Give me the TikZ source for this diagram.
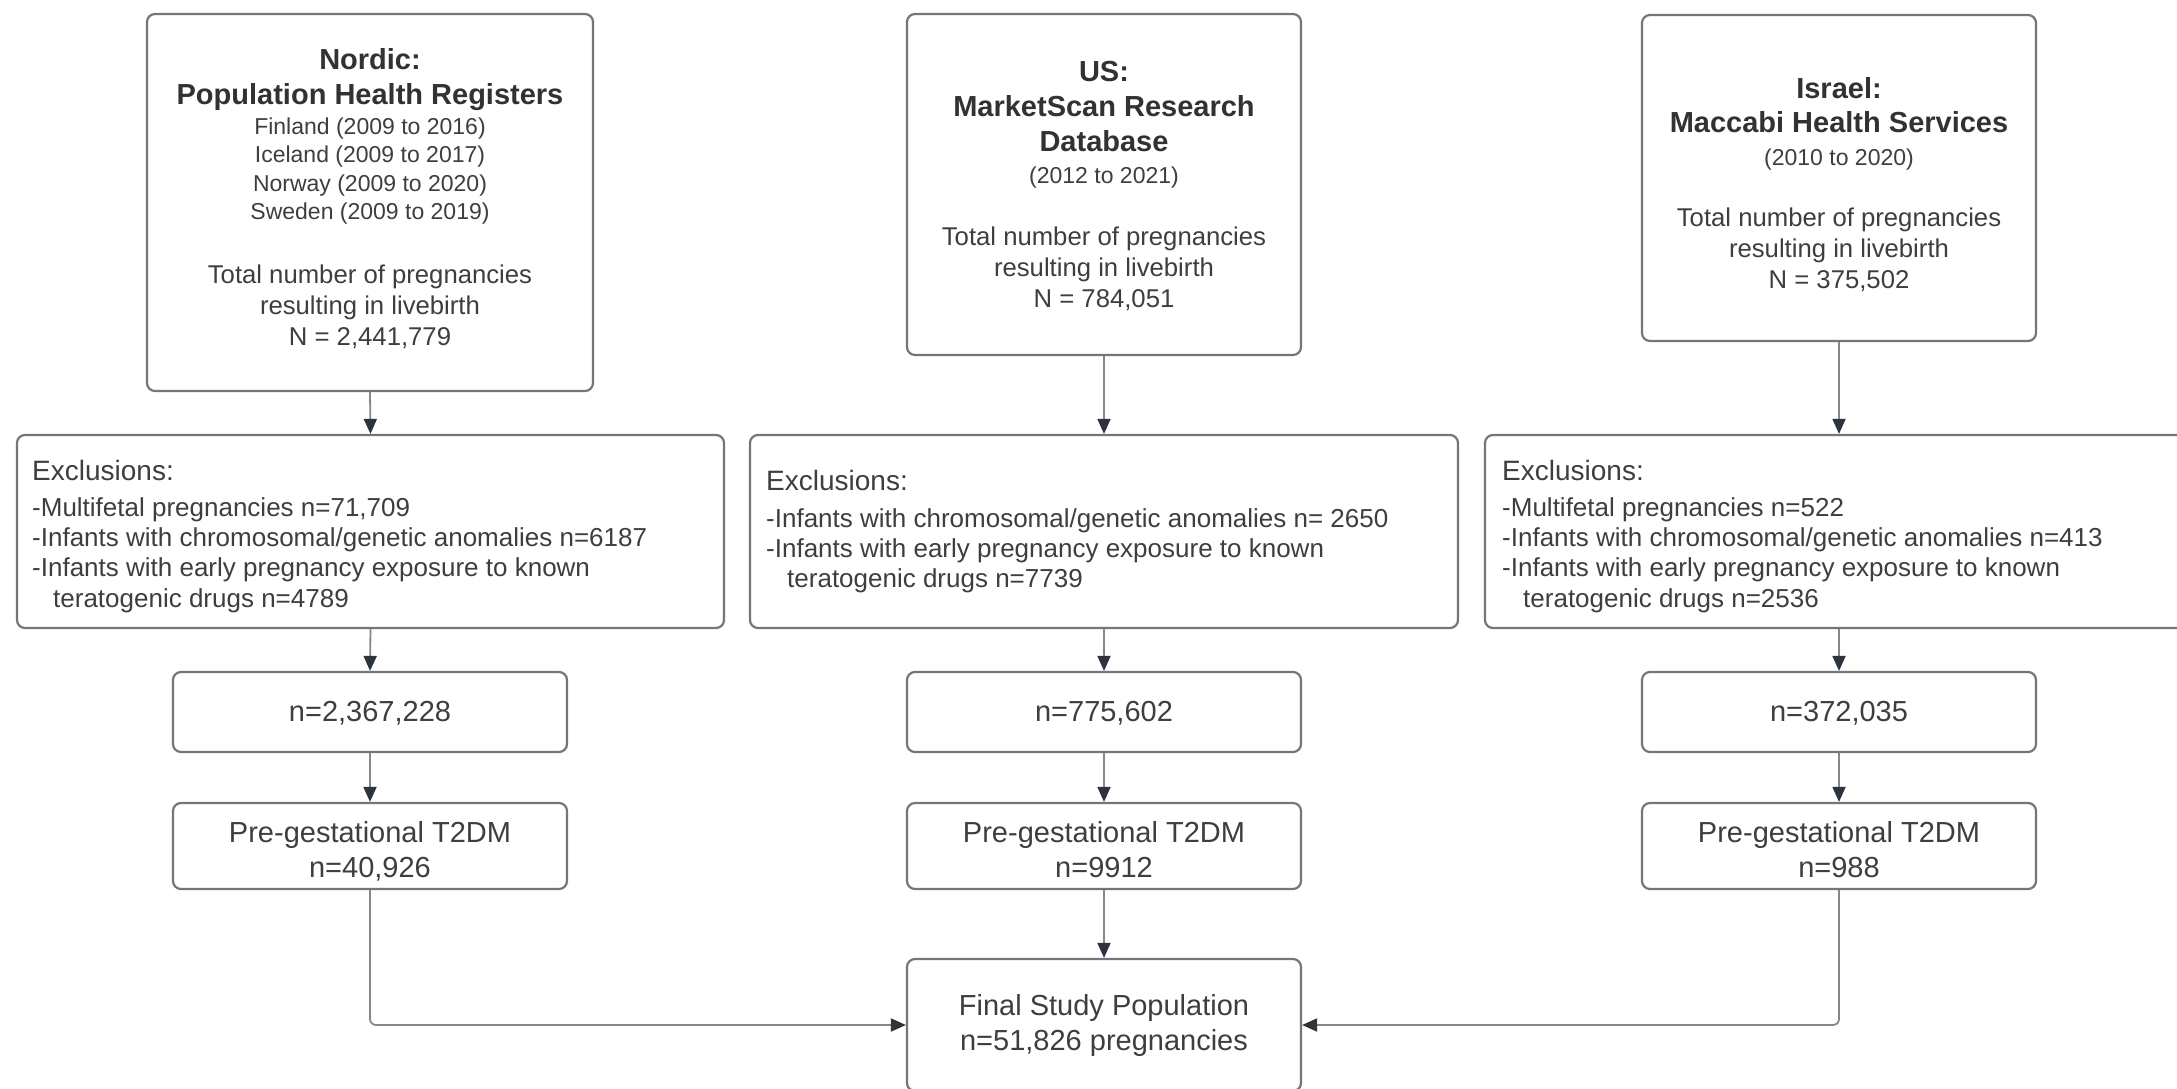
\documentclass[tikz,border=0pt]{standalone}
\usepackage{fontspec}
\setmainfont{Liberation Sans}
\usetikzlibrary{arrows.meta}
\definecolor{boxgray}{RGB}{118,118,118}
\definecolor{linegray}{RGB}{135,135,135}
\definecolor{tipdark}{RGB}{45,52,62}
\definecolor{txtgray}{RGB}{62,62,62}
\definecolor{ttlgray}{RGB}{50,50,50}
\tikzset{
  box/.style={draw=boxgray, line width=2.2pt, rounded corners=8pt, fill=white, inner sep=0pt, rectangle},
  conn/.style={draw=linegray, line width=1.8pt, -{Triangle[length=15pt,width=13pt,color=tipdark]}},
  hd/.style={anchor=base, inner sep=0pt, text=ttlgray, font=\fontsize{29}{35}\selectfont\bfseries},
  sm/.style={anchor=base, inner sep=0pt, text=txtgray, font=\fontsize{23}{28}\selectfont},
  bd/.style={anchor=base, inner sep=0pt, text=txtgray, font=\fontsize{25.7}{31}\selectfont},
  exh/.style={anchor=base west, inner sep=0pt, text=txtgray, font=\fontsize{28}{32}\selectfont},
  ex/.style={anchor=base west, inner sep=0pt, text=txtgray, font=\fontsize{26}{30}\selectfont},
  lo/.style={anchor=base, inner sep=0pt, text=txtgray, font=\fontsize{29}{35}\selectfont},
}
\begin{document}
\begin{tikzpicture}[x=1pt,y=-1pt]
\useasboundingbox (0,0) rectangle (2177,1089);
\fill[white] (0,0) rectangle (2177,1089);
\clip (0,0) rectangle (2177,1089);

% ---------- boxes ----------
\node[box, minimum width=446pt, minimum height=377pt] (nb) at (370,202.5) {};
\node[box, minimum width=394pt, minimum height=341pt] (ub) at (1104,184.5) {};
\node[box, minimum width=394pt, minimum height=326pt] (ib) at (1839,178) {};

\node[box, minimum width=707pt, minimum height=193pt] (ne) at (370.5,531.5) {};
\node[box, minimum width=708pt, minimum height=193pt] (ue) at (1104,531.5) {};
\node[box, minimum width=708pt, minimum height=193pt] (ie) at (1839,531.5) {};

\node[box, minimum width=394pt, minimum height=80pt] (nn) at (370,712) {};
\node[box, minimum width=394pt, minimum height=80pt] (un) at (1104,712) {};
\node[box, minimum width=394pt, minimum height=80pt] (in) at (1839,712) {};

\node[box, minimum width=394pt, minimum height=86pt] (np) at (370,846) {};
\node[box, minimum width=394pt, minimum height=86pt] (up) at (1104,846) {};
\node[box, minimum width=394pt, minimum height=86pt] (ip) at (1839,846) {};

\node[box, minimum width=394pt, minimum height=132pt] (fin) at (1104,1025) {};

% ---------- Nordic top ----------
\node[hd] (nt1) at (370,70) {Nordic:};
\node[hd] (nt2) at (370,105) {Population Health Registers};
\node[sm] (nt3) at (370,135) {Finland (2009 to 2016)};
\node[sm] (nt4) at (370,163) {Iceland (2009 to 2017)};
\node[sm] (nt5) at (370,191) {Norway (2009 to 2020)};
\node[sm] (nt6) at (370,219) {Sweden (2009 to 2019)};
\node[bd] (nt7) at (370,283) {Total number of pregnancies};
\node[bd] (nt8) at (370,314) {resulting in livebirth};
\node[bd] (nt9) at (370,345) {N = 2,441,779};

% ---------- US top ----------
\node[hd] (ut1) at (1104,82) {US:};
\node[hd] (ut2) at (1104,117) {MarketScan Research};
\node[hd] (ut3) at (1104,152) {Database};
\node[sm] (ut4) at (1104,183) {(2012 to 2021)};
\node[bd] (ut5) at (1104,245) {Total number of pregnancies};
\node[bd] (ut6) at (1104,276) {resulting in livebirth};
\node[bd] (ut7) at (1104,307) {N = 784,051};

% ---------- Israel top ----------
\node[hd] (it1) at (1839,99) {Israel:};
\node[hd] (it2) at (1839,133) {Maccabi Health Services};
\node[sm] (it3) at (1839,165) {(2010 to 2020)};
\node[bd] (it4) at (1839,226) {Total number of pregnancies};
\node[bd] (it5) at (1839,257) {resulting in livebirth};
\node[bd] (it6) at (1839,288) {N = 375,502};

% ---------- Exclusions ----------
\node[exh] (ne1) at (32,480) {Exclusions:};
\node[ex] (ne2) at (32,516) {-Multifetal pregnancies n=71,709};
\node[ex] (ne3) at (32,546) {-Infants with chromosomal/genetic anomalies n=6187};
\node[ex] (ne4) at (32,576) {-Infants with early pregnancy exposure to known};
\node[ex] (ne5) at (53,607) {teratogenic drugs n=4789};

\node[exh] (ue1) at (766,490) {Exclusions:};
\node[ex] (ue2) at (766,527) {-Infants with chromosomal/genetic anomalies n= 2650};
\node[ex] (ue3) at (766,557) {-Infants with early pregnancy exposure to known};
\node[ex] (ue4) at (787,587) {teratogenic drugs n=7739};

\node[exh] (ie1) at (1502,480) {Exclusions:};
\node[ex] (ie2) at (1502,516) {-Multifetal pregnancies n=522};
\node[ex] (ie3) at (1502,546) {-Infants with chromosomal/genetic anomalies n=413};
\node[ex] (ie4) at (1502,576) {-Infants with early pregnancy exposure to known};
\node[ex] (ie5) at (1523,607) {teratogenic drugs n=2536};

% ---------- counts ----------
\node[lo] (nn1) at (370,721) {n=2,367,228};
\node[lo] (un1) at (1104,721) {n=775,602};
\node[lo] (in1) at (1839,721) {n=372,035};

\node[lo] (np1) at (370,842) {Pre-gestational T2DM};
\node[lo] (np2) at (370,877) {n=40,926};
\node[lo] (up1) at (1104,842) {Pre-gestational T2DM};
\node[lo] (up2) at (1104,877) {n=9912};
\node[lo] (ip1) at (1839,842) {Pre-gestational T2DM};
\node[lo] (ip2) at (1839,877) {n=988};

\node[lo] (fin1) at (1104,1015) {Final Study Population};
\node[lo] (fin2) at (1104,1050) {n=51,826 pregnancies};

% ---------- connectors ----------
\draw[conn] (nb.south) -- (ne.north);
\draw[conn] (ub.south) -- (ue.north);
\draw[conn] (ib.south) -- (ie.north);
\draw[conn] (ne.south) -- (nn.north);
\draw[conn] (ue.south) -- (un.north);
\draw[conn] (ie.south) -- (in.north);
\draw[conn] (nn.south) -- (np.north);
\draw[conn] (un.south) -- (up.north);
\draw[conn] (in.south) -- (ip.north);
\draw[conn] (up.south) -- (fin.north);
\draw[conn, rounded corners=6pt] (np.south) |- (fin.west);
\draw[conn, rounded corners=6pt] (ip.south) |- (fin.east);
\end{tikzpicture}
\end{document}
